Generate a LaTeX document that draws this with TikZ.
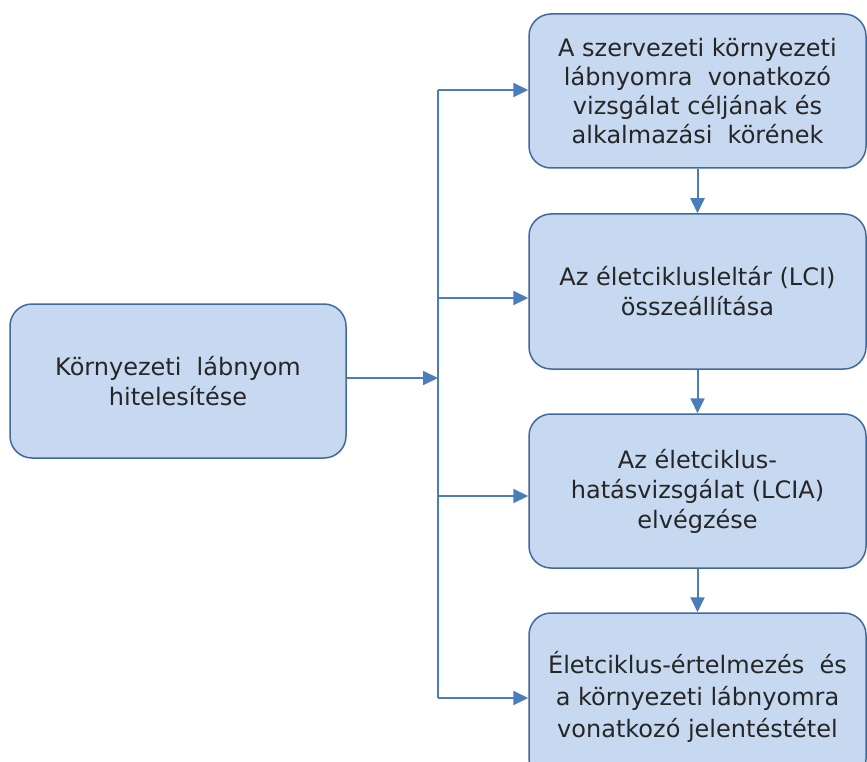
\documentclass[tikz,border=0pt]{standalone}
\usepackage{fontspec}
\setmainfont{DejaVu Sans}
\usetikzlibrary{arrows.meta}
\definecolor{boxfill}{HTML}{C6D9F1}
\definecolor{boxline}{HTML}{41699C}
\definecolor{connline}{HTML}{4A7EBB}
\definecolor{txt}{HTML}{262626}
\begin{document}
\begin{tikzpicture}[x=1pt,y=-1pt,
  stepbox/.style={draw=boxline,line width=1.5pt,fill=boxfill,rounded corners=22pt,
    align=center,text=txt,inner sep=0pt,
    font=\fontsize{24}{30}\selectfont},
  conn/.style={draw=connline,line width=2pt,-{Triangle[length=15pt,width=14pt]}},
  busline/.style={draw=connline,line width=2pt}]
\useasboundingbox (0,0) rectangle (867,762);
\clip (0,0) rectangle (867,762);

% left box
\node[stepbox,minimum width=336pt,minimum height=154pt] (L) at (178,381)
  {Környezeti\ \ lábnyom\\hitelesítése};

% right column
\node[stepbox,minimum width=337pt,minimum height=154pt,
  font=\fontsize{24}{29}\selectfont] (B1) at (697.5,91)
  {A szervezeti környezeti\\lábnyomra\ \ vonatkozó\\vizsgálat céljának és\\alkalmazási\ \ körének};
\node[stepbox,minimum width=337pt,minimum height=155pt] (B2) at (697.5,291.5)
  {Az életciklusleltár (LCI)\\összeállítása};
\node[stepbox,minimum width=337pt,minimum height=154pt] (B3) at (697.5,491)
  {Az életciklus-\\hatásvizsgálat (LCIA)\\elvégzése};
\node[stepbox,minimum width=337pt,minimum height=168pt,
  font=\fontsize{24}{32}\selectfont] (B4) at (697.5,697)
  {Életciklus-értelmezés\ \ és\\a környezeti lábnyomra\\vonatkozó jelentéstétel};

% distribution bus
\coordinate (bt) at (438,90);
\coordinate (b2) at (438,298);
\coordinate (b3) at (438,496);
\coordinate (bb) at (438,698);
\coordinate (bm) at (438,378);
\path[busline] (bt) -- (bb);

\draw[conn] (L.east |- bm) -- (bm);
\draw[conn] (bt) -- (bt -| B1.west);
\draw[conn] (b2) -- (b2 -| B2.west);
\draw[conn] (b3) -- (b3 -| B3.west);
\draw[conn] (bb) -- (bb -| B4.west);

% sequence arrows
\draw[conn] (B1.south) -- (B2.north);
\draw[conn] (B2.south) -- (B3.north);
\draw[conn] (B3.south) -- (B4.north);
\end{tikzpicture}
\end{document}
